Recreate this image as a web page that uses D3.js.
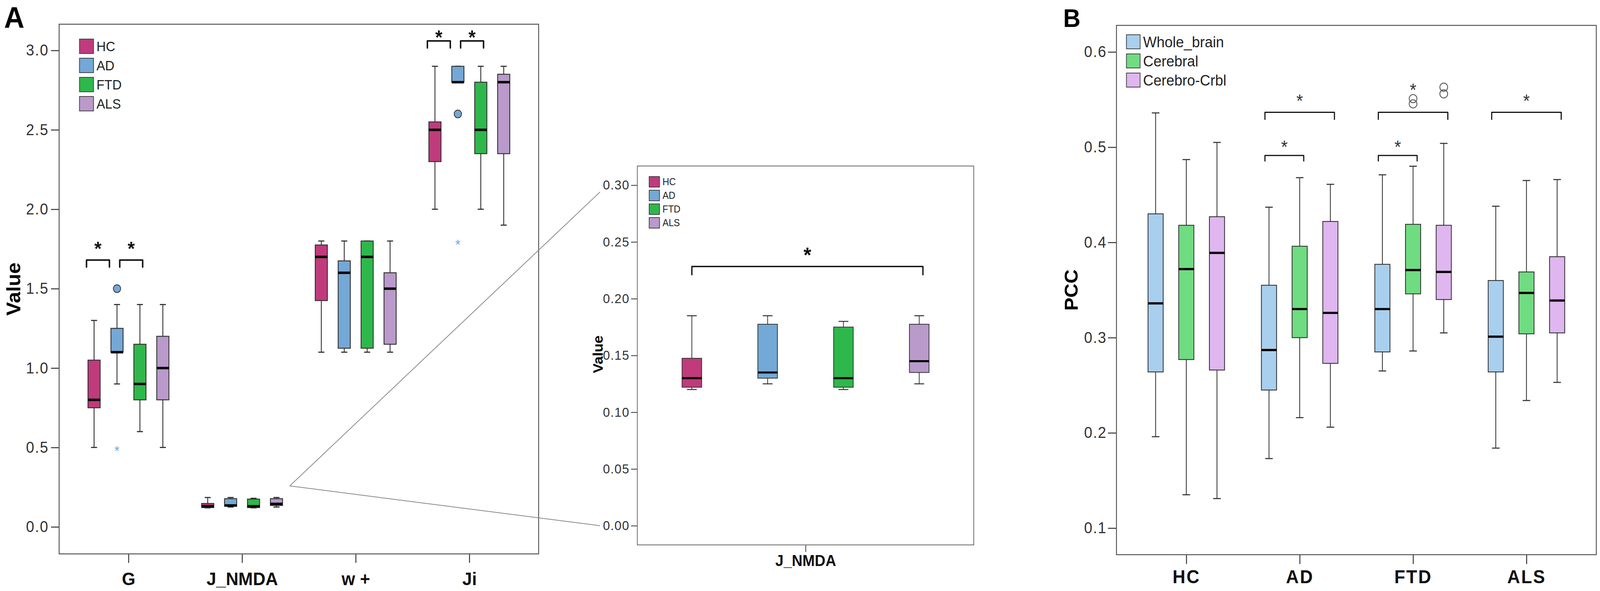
<!DOCTYPE html>
<html>
<head>
<meta charset="utf-8">
<script src="https://cdn.jsdelivr.net/npm/d3@7"></script>
<style>
  html, body { margin: 0; padding: 0; background: #fff; overflow: hidden; }
  svg { display: block; width: 100vw; height: 100vh; font-family: "Liberation Sans", Arial, sans-serif; }
</style>
</head>
<body>
<svg viewBox="0 0 4328 1513" preserveAspectRatio="none"></svg>
<script>
// ---------- data : panel A ----------
const groupsA = ["HC", "AD", "FTD", "ALS"];
const colorsA = ["#c03b7c", "#74a8d6", "#2eb84b", "#b99acb"];
const paramsA = ["G", "J_NMDA", "w +", "Ji"];
const ticksA = [0.0, 0.5, 1.0, 1.5, 2.0, 2.5, 3.0];

// [min, q1, median, q3, max] for HC, AD, FTD, ALS
const boxG = [[0.50, 0.75, 0.80, 1.05, 1.30], [0.90, 1.10, 1.10, 1.25, 1.40],
              [0.60, 0.80, 0.90, 1.15, 1.40], [0.50, 0.80, 1.00, 1.20, 1.40]];
const boxJNMDA = [[0.120, 0.122, 0.130, 0.1475, 0.185], [0.125, 0.130, 0.135, 0.1775, 0.185],
                  [0.120, 0.122, 0.130, 0.175, 0.180], [0.125, 0.135, 0.145, 0.1775, 0.185]];
const boxW = [[1.10, 1.425, 1.70, 1.775, 1.80], [1.10, 1.125, 1.60, 1.675, 1.80],
              [1.10, 1.125, 1.70, 1.80, 1.80], [1.10, 1.15, 1.50, 1.60, 1.80]];
const boxJi = [[2.00, 2.30, 2.50, 2.55, 2.90], [2.80, 2.80, 2.80, 2.90, 2.90],
               [2.00, 2.35, 2.50, 2.80, 2.90], [1.90, 2.35, 2.80, 2.85, 2.90]];

const outliersA = [
  { param: "G", group: "AD", value: 1.50, kind: "circle" },
  { param: "G", group: "AD", value: 0.50, kind: "star" },
  { param: "Ji", group: "AD", value: 2.60, kind: "circle" },
  { param: "Ji", group: "AD", value: 1.80, kind: "star" }
];
const sigA = [
  { param: "G", from: "HC", to: "AD", level: 1.68, star: 1.78 },
  { param: "G", from: "AD", to: "FTD", level: 1.68, star: 1.78 },
  { param: "Ji", from: "HC", to: "AD", level: 3.06, star: 3.11 },
  { param: "Ji", from: "AD", to: "FTD", level: 3.06, star: 3.11 }
];

// inset (J_NMDA zoom)
const ticksInset = [0.00, 0.05, 0.10, 0.15, 0.20, 0.25, 0.30];
const sigInset = [{ from: "HC", to: "ALS", level: 0.2284, star: 0.2429 }];

// ---------- data : panel B ----------
const seriesB = ["Whole_brain", "Cerebral", "Cerebro-Crbl"];
const colorsB = ["#a9cfee", "#6fdc81", "#dfb6ef"];
const groupsB = ["HC", "AD", "FTD", "ALS"];
const ticksB = [0.1, 0.2, 0.3, 0.4, 0.5, 0.6];
// [min, q1, median, q3, max] for Whole_brain, Cerebral, Cerebro-Crbl
const pccHC = [[0.196, 0.264, 0.336, 0.430, 0.536], [0.135, 0.277, 0.372, 0.418, 0.487],
               [0.131, 0.266, 0.389, 0.427, 0.505]];
const pccAD = [[0.173, 0.245, 0.287, 0.355, 0.437], [0.216, 0.300, 0.330, 0.396, 0.468],
               [0.206, 0.273, 0.326, 0.422, 0.461]];
const pccFTD = [[0.265, 0.285, 0.330, 0.377, 0.471], [0.286, 0.346, 0.371, 0.419, 0.480],
                [0.305, 0.340, 0.369, 0.418, 0.504]];
const pccALS = [[0.184, 0.264, 0.301, 0.360, 0.438], [0.234, 0.304, 0.347, 0.369, 0.465],
                [0.253, 0.305, 0.339, 0.385, 0.466]];
const outliersB = [
  { group: "FTD", series: "Cerebral", value: 0.551 },
  { group: "FTD", series: "Cerebral", value: 0.5455 },
  { group: "FTD", series: "Cerebro-Crbl", value: 0.563 },
  { group: "FTD", series: "Cerebro-Crbl", value: 0.556 }
];
const sigB = [
  { group: "AD", from: "Whole_brain", to: "Cerebro-Crbl", level: 0.5366, star: 0.5532 },
  { group: "AD", from: "Whole_brain", to: "Cerebral", level: 0.4913, star: 0.5048 },
  { group: "FTD", from: "Whole_brain", to: "Cerebro-Crbl", level: 0.5366, star: 0.5647 },
  { group: "FTD", from: "Whole_brain", to: "Cerebral", level: 0.4913, star: 0.5048 },
  { group: "ALS", from: "Whole_brain", to: "Cerebro-Crbl", level: 0.5366, star: 0.5532 }
];

const svg = d3.select("svg");
const boxStroke = "#333";

// draws one box-and-whisker from a 5 number summary
function drawBox(g, cx, w, s, y, fill, sw) {
  const b = g.append("g");
  b.append("line").attr("x1", cx).attr("x2", cx).attr("y1", y(s[4])).attr("y2", y(s[3]))
    .attr("stroke", boxStroke).attr("stroke-width", sw);
  b.append("line").attr("x1", cx).attr("x2", cx).attr("y1", y(s[1])).attr("y2", y(s[0]))
    .attr("stroke", boxStroke).attr("stroke-width", sw);
  [s[0], s[4]].forEach(v => {
    b.append("line").attr("x1", cx - w / 4).attr("x2", cx + w / 4).attr("y1", y(v)).attr("y2", y(v))
      .attr("stroke", boxStroke).attr("stroke-width", sw + 0.5);
  });
  b.append("rect").attr("x", cx - w / 2).attr("width", w)
    .attr("y", y(s[3])).attr("height", Math.max(0.5, y(s[1]) - y(s[3])))
    .attr("fill", fill).attr("stroke", boxStroke).attr("stroke-width", sw);
  b.append("line").attr("x1", cx - w / 2).attr("x2", cx + w / 2).attr("y1", y(s[2])).attr("y2", y(s[2]))
    .attr("stroke", "#000").attr("stroke-width", sw * 2.6);
}

function bracket(g, x1, x2, yTop, drop, sw) {
  g.append("path")
    .attr("d", `M${x1},${yTop + drop}V${yTop}H${x2}V${yTop + drop}`)
    .attr("fill", "none").attr("stroke", "#111").attr("stroke-width", sw)
    .attr("stroke-linejoin", "round").attr("stroke-linecap", "round");
}

function star(g, x, yc, size, weight, color) {
  g.append("text").attr("x", x).attr("y", yc + size * 0.575)
    .attr("text-anchor", "middle").attr("font-size", size)
    .attr("font-weight", weight).attr("fill", color).text("*");
}

function styleAxis(ax, size, weight, color, sw) {
  ax.select(".domain").remove();
  ax.selectAll(".tick line").attr("stroke", "#333").attr("stroke-width", sw);
  ax.selectAll(".tick text").attr("font-size", size).attr("font-weight", weight)
    .attr("fill", color).attr("font-family", "Liberation Sans, Arial, sans-serif");
}

function legend(g, x, y0, step, bw, bh, names, colors, size) {
  names.forEach((n, i) => {
    g.append("rect").attr("x", x).attr("y", y0 + i * step).attr("width", bw).attr("height", bh)
      .attr("fill", colors[i]).attr("stroke", "#444").attr("stroke-width", 2);
    g.append("text").attr("x", x + bw + 8).attr("y", y0 + i * step + bh / 2)
      .attr("dy", "0.36em").attr("font-size", size).attr("fill", "#222").text(n);
  });
}

// ================= PANEL A =================
const A = { left: 160, right: 1457, top: 62, bottom: 1418 };
const xA = d3.scalePoint().domain(paramsA).range([A.left, A.right]).padding(0.61);
const yA = d3.scaleLinear().domain([-0.17, 3.165]).range([A.bottom, A.top]);
const slotA = d3.scaleBand().domain(groupsA).range([-124, 124]);
const cxA = (p, gname) => xA(p) + slotA(gname) + slotA.bandwidth() / 2;
const wA = slotA.step() * 0.53;
const gA = svg.append("g");

gA.append("text").attr("x", 11).attr("y", 71).attr("font-size", 76)
  .attr("font-weight", "bold").text("A");

const axAy = gA.append("g").attr("transform", `translate(${A.left},0)`)
  .call(d3.axisLeft(yA).tickValues(ticksA).tickSize(22).tickPadding(6).tickFormat(d3.format(".1f")));
styleAxis(axAy, 40, "normal", "#333", 2.5);
axAy.selectAll(".tick text").attr("letter-spacing", 2);

const axAx = gA.append("g").attr("transform", `translate(0,${A.bottom})`)
  .call(d3.axisBottom(xA).tickSize(23).tickPadding(24));
styleAxis(axAx, 47, "bold", "#111", 2.5);

gA.append("text").attr("transform", `translate(55,${(A.top + A.bottom) / 2}) rotate(-90)`)
  .attr("text-anchor", "middle").attr("font-size", 52).attr("font-weight", "bold").text("Value");

const dataA = { "G": boxG, "J_NMDA": boxJNMDA, "w +": boxW, "Ji": boxJi };
paramsA.forEach(p => {
  groupsA.forEach((gname, i) => {
    drawBox(gA, cxA(p, gname), wA, dataA[p][i], yA, colorsA[i], 2.4);
  });
});

outliersA.forEach(o => {
  const cx = cxA(o.param, o.group);
  const col = colorsA[groupsA.indexOf(o.group)];
  if (o.kind === "circle") {
    gA.append("circle").attr("cx", cx).attr("cy", yA(o.value)).attr("r", 10)
      .attr("fill", col).attr("stroke", "#333").attr("stroke-width", 2);
  } else {
    star(gA, cx, yA(o.value), 36, "normal", col);
  }
});

// bracket ends sit a bit off the box centres, as in the figure
const nudgeA = { HC: -0.33, AD: 0.12 };
sigA.forEach(s => {
  const off = nudgeA[s.from] * slotA.step();
  const x1 = cxA(s.param, s.from) + off, x2 = cxA(s.param, s.to) + off;
  bracket(gA, x1, x2, yA(s.level), 18, 4);
  star(gA, (x1 + x2) / 2, yA(s.star), 50, "bold", "#111");
});

legend(gA, 215, 100, 49, 38, 37, groupsA, colorsA, 35);

gA.append("rect").attr("x", A.left).attr("y", A.top)
  .attr("width", A.right - A.left).attr("height", A.bottom - A.top)
  .attr("fill", "none").attr("stroke", "#555").attr("stroke-width", 2.5);

// ================= INSET =================
const I = { left: 1724, right: 2634, top: 425, bottom: 1395 };
const xI = d3.scalePoint().domain(["J_NMDA"]).range([I.left, I.right]).padding(0.5);
const yI = d3.scaleLinear().domain([-0.0169, 0.3169]).range([I.bottom, I.top]);
const slotI = d3.scaleBand().domain(groupsA).range([-410, 410]);
const cxI = gname => xI("J_NMDA") + slotI(gname) + slotI.bandwidth() / 2;
const gI = svg.append("g");

// zoom lines from the J_NMDA group in panel A to the inset
const apex = [xA("J_NMDA") + 2.08 * slotA.step(), yA(0.258)];
[0.294, 0.0].forEach(v => {
  gI.append("line").attr("x1", apex[0]).attr("y1", apex[1])
    .attr("x2", I.left - 101).attr("y2", yI(v))
    .attr("stroke", "#8a8a8a").attr("stroke-width", 2);
});

const axIy = gI.append("g").attr("transform", `translate(${I.left},0)`)
  .call(d3.axisLeft(yI).tickValues(ticksInset).tickSize(17).tickPadding(4).tickFormat(d3.format(".2f")));
styleAxis(axIy, 34, "normal", "#333", 2);
axIy.selectAll(".tick text").attr("letter-spacing", 1.5);

const axIx = gI.append("g").attr("transform", `translate(0,${I.bottom})`)
  .call(d3.axisBottom(xI).tickSize(18).tickPadding(8));
styleAxis(axIx, 40, "bold", "#111", 2);

gI.append("text").attr("transform", `translate(1630,${(I.top + I.bottom) / 2 - 3}) rotate(-90)`)
  .attr("text-anchor", "middle").attr("font-size", 37).attr("font-weight", "bold").text("Value");

groupsA.forEach((gname, i) => {
  drawBox(gI, cxI(gname), 53, boxJNMDA[i], yI, colorsA[i], 2);
});

sigInset.forEach(s => {
  const x1 = cxI(s.from), x2 = cxI(s.to) + 10;
  bracket(gI, x1, x2, yI(s.level), 21, 3.5);
  star(gI, (x1 + x2) / 2, yI(s.star), 54, "bold", "#111");
});

legend(gI, 1756, 452, 35, 28, 27, groupsA, colorsA, 25);

gI.append("rect").attr("x", I.left).attr("y", I.top)
  .attr("width", I.right - I.left).attr("height", I.bottom - I.top)
  .attr("fill", "none").attr("stroke", "#666").attr("stroke-width", 2);

// ================= PANEL B =================
const B = { left: 3020, right: 4318, top: 65, bottom: 1420 };
const xB = d3.scalePoint().domain(groupsB).range([B.left, B.right]).padding(0.616);
const yB = d3.scaleLinear().domain([0.0721, 0.6279]).range([B.bottom, B.top]);
const slotB = d3.scaleBand().domain(seriesB).range([-124.5, 124.5]);
const cxB = (gname, s) => xB(gname) + slotB(s) + slotB.bandwidth() / 2;
const gB = svg.append("g");

gB.append("text").attr("x", 2876).attr("y", 69).attr("font-size", 65)
  .attr("font-weight", "bold").text("B");

const axBy = gB.append("g").attr("transform", `translate(${B.left},0)`)
  .call(d3.axisLeft(yB).tickValues(ticksB).tickSize(23).tickPadding(3).tickFormat(d3.format(".1f")));
styleAxis(axBy, 40, "normal", "#333", 2.5);
axBy.selectAll(".tick text").attr("letter-spacing", 2);

const axBx = gB.append("g").attr("transform", `translate(0,${B.bottom})`)
  .call(d3.axisBottom(xB).tickSize(24).tickPadding(15));
styleAxis(axBx, 48, "bold", "#111", 2.5);
axBx.selectAll(".tick text").attr("letter-spacing", 3);

gB.append("text").attr("transform", `translate(2915,${(B.top + B.bottom) / 2}) rotate(-90)`)
  .attr("text-anchor", "middle").attr("font-size", 50).attr("font-weight", "bold").text("PCC");

const dataB = { HC: pccHC, AD: pccAD, FTD: pccFTD, ALS: pccALS };
groupsB.forEach(gname => {
  seriesB.forEach((s, i) => {
    drawBox(gB, cxB(gname, s), 41, dataB[gname][i], yB, colorsB[i], 2.2);
  });
});

outliersB.forEach(o => {
  gB.append("circle").attr("cx", cxB(o.group, o.series)).attr("cy", yB(o.value)).attr("r", 10.5)
    .attr("fill", "none").attr("stroke", "#555").attr("stroke-width", 2.2);
});

sigB.forEach(s => {
  const x1 = cxB(s.group, s.from) - 11, x2 = cxB(s.group, s.to) + 11;
  const big = s.to === "Cerebro-Crbl";
  bracket(gB, x1, x2, yB(s.level), big ? 18 : 14, 3);
  star(gB, (x1 + x2) / 2, yB(s.star), 46, "normal", "#333");
});

legend(gB, 3047, 89, 49, 37, 36, seriesB, colorsB, 39);

gB.append("rect").attr("x", B.left).attr("y", B.top)
  .attr("width", B.right - B.left).attr("height", B.bottom - B.top)
  .attr("fill", "none").attr("stroke", "#555").attr("stroke-width", 2.5);
</script>
</body>
</html>
